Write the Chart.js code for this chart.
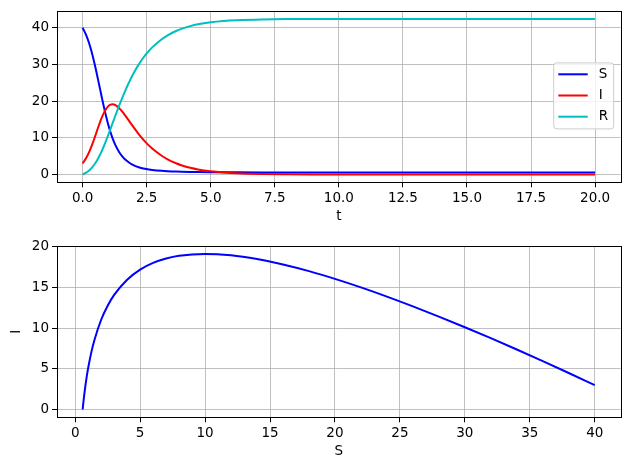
<!DOCTYPE html>
<html>
<head>
<meta charset="utf-8">
<script src="https://cdn.jsdelivr.net/npm/chart.js@4.4.0/dist/chart.umd.min.js"></script>
<style>
  html, body { margin: 0; padding: 0; background: #fff; }
  .plot { position: absolute; left: 0; width: 630px; height: 235px; }
</style>
</head>
<body>
<div class="plot" style="top:0"><canvas id="timeChart" width="630" height="235"></canvas></div>
<div class="plot" style="top:235px"><canvas id="phaseChart" width="630" height="235"></canvas></div>
<script>
// time series
const tValues = [0, 0.138, 0.244, 0.329, 0.405, 0.473, 0.537, 0.598, 0.659, 0.719, 0.78, 0.844, 0.911, 0.985, 1.067, 1.163, 1.28, 1.436, 1.539, 1.673, 1.865, 2.0, 2.187, 2.483, 2.716, 3.088, 3.316, 3.646, 3.879, 4.2, 4.5, 5, 5.5, 6, 7, 8, 9, 10, 12.5, 15, 17.5, 20];
const sValues = [40, 38, 36, 34, 32, 30, 28, 26, 24, 22, 20, 18, 16, 14, 12, 10, 8, 6, 5, 4, 3, 2.5, 2, 1.5, 1.25, 1, 0.9, 0.8, 0.75, 0.7, 0.665, 0.631, 0.61, 0.597, 0.584, 0.578, 0.576, 0.5755, 0.575, 0.575, 0.575, 0.575];
const iValues = [3, 4.49, 5.95, 7.38, 8.77, 10.12, 11.43, 12.69, 13.89, 15.02, 16.07, 17.02, 17.84, 18.5, 18.96, 19.14, 18.91, 18.03, 17.21, 15.97, 14.1, 12.77, 11.04, 8.64, 7.09, 5.11, 4.16, 3.08, 2.48, 1.84, 1.39, 0.87, 0.545, 0.341, 0.133, 0.052, 0.02, 0.008, 0.001, 0, 0, 0];
const rValues = [0, 0.51, 1.05, 1.62, 2.23, 2.88, 3.57, 4.31, 5.11, 5.98, 6.93, 7.98, 9.16, 10.5, 12.04, 13.86, 16.09, 18.97, 20.79, 23.03, 25.9, 27.73, 29.96, 32.86, 34.66, 36.89, 37.94, 39.12, 39.77, 40.46, 40.95, 41.5, 41.85, 42.06, 42.28, 42.37, 42.4, 42.42, 42.424, 42.425, 42.425, 42.425];

// phase curve (S ascending)
const phaseS = [0.575, 0.6, 0.65, 0.7, 0.75, 0.8, 0.9, 1, 1.25, 1.5, 2, 2.5, 3, 4, 5, 6, 7, 8, 10, 12, 14, 16, 18, 20, 22, 24, 26, 28, 30, 32, 34, 36, 38, 40];
const phaseI = [0, 0.4, 1.15, 1.84, 2.48, 3.08, 4.16, 5.11, 7.09, 8.64, 11.04, 12.77, 14.1, 15.97, 17.21, 18.03, 18.57, 18.91, 19.14, 18.96, 18.5, 17.84, 17.02, 16.07, 15.02, 13.89, 12.69, 11.43, 10.12, 8.77, 7.38, 5.95, 4.49, 3];

const tTicks = [0, 2.5, 5, 7.5, 10, 12.5, 15, 17.5, 20];
const topYTicks = [0, 10, 20, 30, 40];
const phaseSTicks = [0, 5, 10, 15, 20, 25, 30, 35, 40];
const phaseITicks = [0, 5, 10, 15, 20];

const legendItems = [
  { label: "S", color: "#0000ff" },
  { label: "I", color: "#ff0000" },
  { label: "R", color: "#00bfbf" }
];

const font = { family: "'DejaVu Sans', sans-serif", size: 13.5 };
Chart.defaults.color = "#000";
Chart.defaults.font = { ...Chart.defaults.font, ...font };

const pts = (xs, ys) => xs.map((x, i) => ({ x, y: ys[i] }));

function makeAxis(min, max, tickList, fmt, extra) {
  return Object.assign({
    type: "linear",
    min, max,
    afterBuildTicks: axis => { axis.ticks = tickList.map(v => ({ value: v })); },
    ticks: { callback: fmt, autoSkip: false, maxRotation: 0, padding: 3, font },
    grid: { color: "#b0b0b0", lineWidth: 0.8, tickColor: "#000", tickLength: 5, tickWidth: 1 },
    border: { display: false }
  }, extra);
}

// matplotlib style box round the plot area
const framePlugin = {
  id: "frame",
  afterDatasetsDraw(chart) {
    const { ctx, chartArea: a } = chart;
    ctx.save();
    ctx.strokeStyle = "#000";
    ctx.lineWidth = 1;
    ctx.strokeRect(Math.round(a.left) + 0.5, Math.round(a.top) + 0.5,
      Math.round(a.right - a.left), Math.round(a.bottom - a.top));
    ctx.restore();
  }
};

// legend drawn inside the axes, centre right
const legendPlugin = {
  id: "insideLegend",
  afterDraw(chart) {
    const { ctx, chartArea: a } = chart;
    const w = 60, h = 66;
    const x = a.right - 7 - w;
    const y = (a.top + a.bottom) / 2 - h / 2 - 0.8;
    ctx.save();
    ctx.beginPath();
    const r = 3;
    ctx.moveTo(x + r, y);
    ctx.arcTo(x + w, y, x + w, y + h, r);
    ctx.arcTo(x + w, y + h, x, y + h, r);
    ctx.arcTo(x, y + h, x, y, r);
    ctx.arcTo(x, y, x + w, y, r);
    ctx.closePath();
    ctx.fillStyle = "rgba(255,255,255,0.8)";
    ctx.fill();
    ctx.strokeStyle = "#cccccc";
    ctx.lineWidth = 1;
    ctx.stroke();
    ctx.font = "13.5px 'DejaVu Sans', sans-serif";
    ctx.textBaseline = "middle";
    ctx.textAlign = "left";
    legendItems.forEach((item, k) => {
      const ly = y + 11.4 + k * 21.2;
      ctx.strokeStyle = item.color;
      ctx.lineWidth = 2;
      ctx.beginPath();
      ctx.moveTo(x + 4.6, ly);
      ctx.lineTo(x + 34, ly);
      ctx.stroke();
      ctx.fillStyle = "#000";
      ctx.fillText(item.label, x + 45, ly);
    });
    ctx.restore();
  }
};

const lineStyle = { borderWidth: 2, pointRadius: 0, fill: false, cubicInterpolationMode: "monotone" };

new Chart(document.getElementById("timeChart"), {
  type: "line",
  data: {
    datasets: [
      { ...lineStyle, label: "S", data: pts(tValues, sValues), borderColor: legendItems[0].color, order: 2 },
      { ...lineStyle, label: "I", data: pts(tValues, iValues), borderColor: legendItems[1].color, order: 1 },
      { ...lineStyle, label: "R", data: pts(tValues, rValues), borderColor: legendItems[2].color, order: 0 }
    ]
  },
  options: {
    responsive: false,
    animation: false,
    parsing: false,
    layout: { padding: { top: 10, right: 9.3, bottom: 0, left: 0 } },
    plugins: { legend: { display: false }, tooltip: { enabled: false } },
    scales: {
      x: makeAxis(-1, 21, tTicks, v => v.toFixed(1), {
        title: { display: true, text: "t", font, padding: { top: 0, bottom: 10.5 } },
        afterFit: axis => { axis.height = 52.7; }
      }),
      y: makeAxis(-2.12, 44.55, topYTicks, v => String(v), {
        afterFit: axis => { axis.width = 57; }
      })
    }
  },
  plugins: [framePlugin, legendPlugin]
});

new Chart(document.getElementById("phaseChart"), {
  type: "line",
  data: {
    datasets: [
      { ...lineStyle, label: "I", data: pts(phaseS, phaseI), borderColor: "#0000ff" }
    ]
  },
  options: {
    responsive: false,
    animation: false,
    parsing: false,
    layout: { padding: { top: 10.7, right: 9.3, bottom: 0, left: 0 } },
    plugins: { legend: { display: false }, tooltip: { enabled: false } },
    scales: {
      x: makeAxis(-1.4, 42.0, phaseSTicks, v => String(v), {
        title: { display: true, text: "S", font, padding: { top: 0, bottom: 10.5 } },
        afterFit: axis => { axis.height = 52.7; }
      }),
      y: makeAxis(-0.96, 20.1, phaseITicks, v => String(v), {
        title: { display: true, text: "I", font, padding: { top: 8, bottom: 0 } },
        afterFit: axis => { axis.width = 57; }
      })
    }
  },
  plugins: [framePlugin]
});
</script>
</body>
</html>
